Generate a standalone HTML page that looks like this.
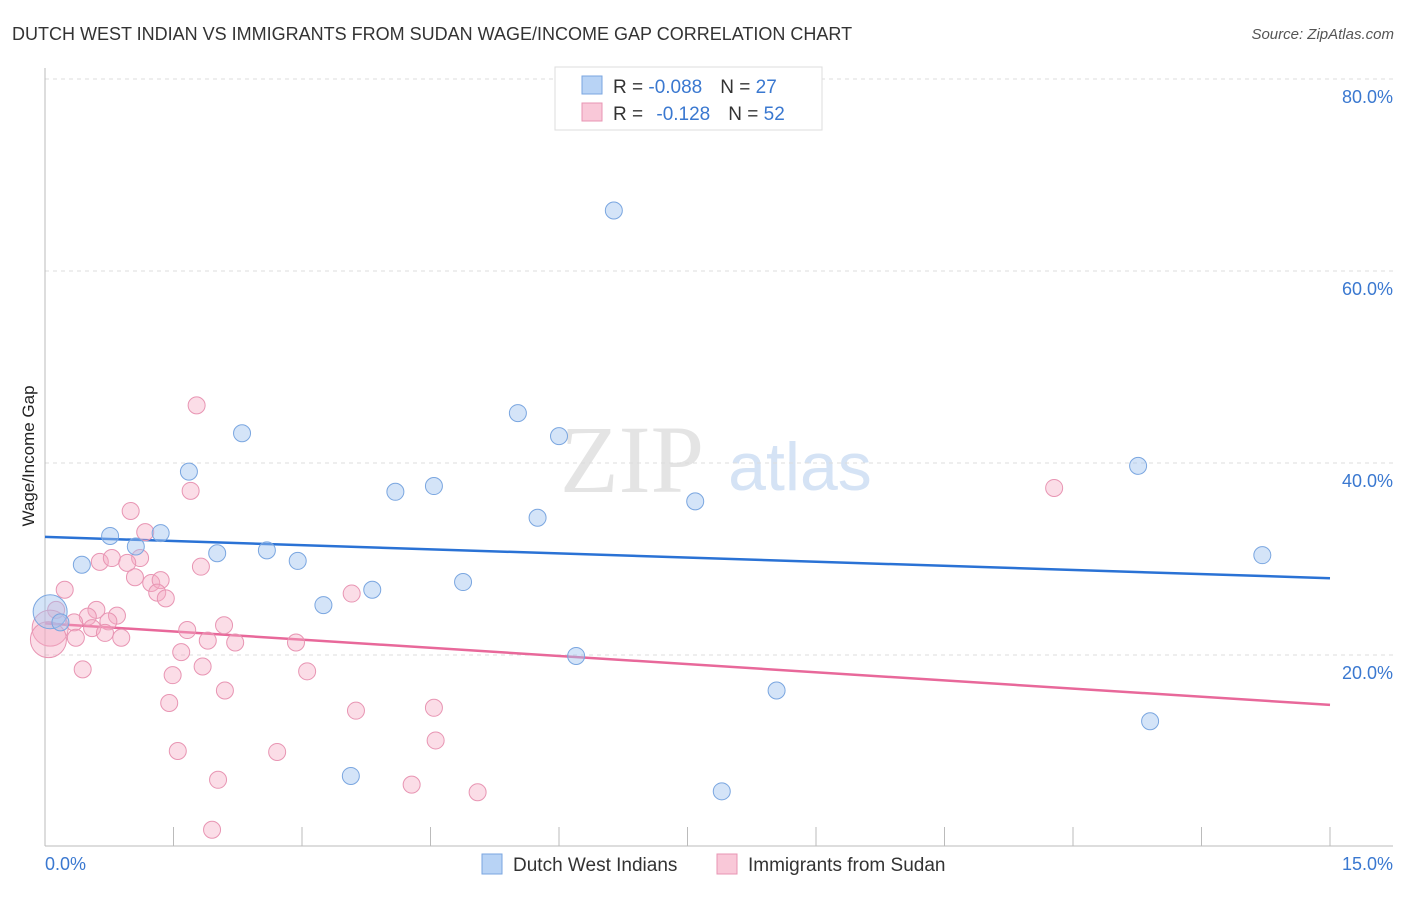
<!DOCTYPE html>
<html><head><meta charset="utf-8"><style>
body{margin:0;background:#fff;font-family:"Liberation Sans",sans-serif}
svg text{font-family:"Liberation Sans",sans-serif}
</style></head><body>
<svg id="c" width="1406" height="892">
<text x="12" y="40" font-size="18" fill="#333">DUTCH WEST INDIAN VS IMMIGRANTS FROM SUDAN WAGE/INCOME GAP CORRELATION CHART</text>
<text x="1394" y="39" font-size="15" fill="#555" text-anchor="end" font-style="italic">Source: ZipAtlas.com</text>
<text x="34" y="456" font-size="17" fill="#222" text-anchor="middle" transform="rotate(-90 34 456)">Wage/Income Gap</text>
<text x="632" y="492" font-size="96" fill="#e4e4e4" font-family="Liberation Serif" text-anchor="middle" style="font-family:'Liberation Serif',serif">ZIP</text>
<text x="800" y="490" font-size="68" fill="#d5e3f5" text-anchor="middle">atlas</text>
<g id="grid"></g><g id="axes"></g><g id="lines"></g><g id="pts"></g>
<g>
<rect x="555" y="67" width="267" height="63" fill="#fff" stroke="#ddd"/>
<rect x="582" y="76" width="20" height="18" fill="#b8d3f5" stroke="#7aa6e0"/>
<rect x="582" y="103" width="20" height="18" fill="#f9c8d8" stroke="#e895b3"/>
<text x="613" y="93" font-size="19" fill="#333">R = <tspan fill="#3a78d0">-0.088</tspan><tspan dx="18">N = </tspan><tspan fill="#3a78d0">27</tspan></text>
<text x="613" y="120" font-size="19" fill="#333">R = <tspan dx="8" fill="#3a78d0">-0.128</tspan><tspan dx="18">N = </tspan><tspan fill="#3a78d0">52</tspan></text>
</g>
<g>
<rect x="482" y="854" width="20" height="20" fill="#b8d3f5" stroke="#7aa6e0"/>
<text x="513" y="871" font-size="19" fill="#333">Dutch West Indians</text>
<rect x="717" y="854" width="20" height="20" fill="#f9c8d8" stroke="#e895b3"/>
<text x="748" y="871" font-size="19" fill="#333">Immigrants from Sudan</text>
</g>
<text x="45" y="870" font-size="18" fill="#3a78d0">0.0%</text>
<text x="1393" y="870" font-size="18" fill="#3a78d0" text-anchor="end">15.0%</text>
</svg>
<script>
const yTicks=[20,40,60,80];
const blueX=[6.64,5.52,2.30,6.00,1.68,4.09,4.54,12.76,7.59,5.75,0.76,1.35,1.06,2.01,2.59,2.95,0.43,14.21,4.88,3.82,3.25,0.06,0.18,6.20,8.54,12.90,3.57,7.90];
const blueY=[66.3,45.2,43.1,42.8,39.1,37.0,37.6,39.7,36.0,34.3,32.4,32.7,31.3,30.6,30.9,29.8,29.4,30.4,27.6,26.8,25.2,24.5,23.4,19.9,16.3,13.1,7.4,5.8];
const blueBig=[0,0,0,0,0,0,0,0,0,0,0,0,0,0,0,0,0,0,0,0,0,1,0,0,0,0,0,0];
const pinkX=[1.77,1.70,1.00,1.17,0.64,0.78,1.11,0.96,1.05,1.24,1.35,1.31,1.41,0.23,3.58,1.82,0.13,0.60,0.84,0.50,0.34,0.74,0.55,0.36,0.70,0.89,1.66,2.09,1.90,2.22,2.93,1.59,1.84,0.44,1.49,3.06,2.10,1.45,3.63,4.54,4.56,1.55,2.71,2.02,4.28,5.05,1.95,11.78,0.06,0.04];
const pinkY=[46.0,37.1,35.0,32.8,29.7,30.1,30.1,29.6,28.1,27.5,27.8,26.5,25.9,26.8,26.4,29.2,24.7,24.7,24.1,24.0,23.4,23.5,22.8,21.8,22.3,21.8,22.6,23.1,21.5,21.3,21.3,20.3,18.8,18.5,17.9,18.3,16.3,15.0,14.2,14.5,11.1,10.0,9.9,7.0,6.5,5.7,1.8,37.4,22.8,21.6];
const pinkBig=[0,0,0,0,0,0,0,0,0,0,0,0,0,0,0,0,0,0,0,0,0,0,0,0,0,0,0,0,0,0,0,0,0,0,0,0,0,0,0,0,0,0,0,0,0,0,0,0,1,1];
const blueTrend=[32.3,28.0];
const pinkTrend=[23.3,14.8];
const xS=v=>45+v/15*1285, yS=v=>847-v*9.6;
const NS='http://www.w3.org/2000/svg';
function mk(t,a,p){const e=document.createElementNS(NS,t);for(const k in a)e.setAttribute(k,a[k]);p.appendChild(e);return e;}
const g=document.getElementById('grid'),ax=document.getElementById('axes'),ln=document.getElementById('lines'),pt=document.getElementById('pts');
yTicks.forEach(v=>{const l=mk('line',{x1:45,x2:1393,y1:yS(v),y2:yS(v),stroke:'#ddd','stroke-dasharray':'4,4'},g);


const t=mk('text',{x:1393,y:yS(v)+24,'font-size':18,fill:'#3a78d0','text-anchor':'end'},g);t.textContent=v.toFixed(1)+'%';

});
mk('line',{x1:45,x2:45,y1:68,y2:846,stroke:'#bbb'},ax);
mk('line',{x1:45,x2:1393,y1:846,y2:846,stroke:'#bbb'},ax);
for(let i=1;i<=10;i++){const t=mk('line',{x1:xS(i*1.5),x2:xS(i*1.5),y1:827,y2:846,stroke:'#bbb'},ax);

}
const bl=mk('line',{x1:xS(0),x2:xS(15),y1:yS(blueTrend[0]),y2:yS(blueTrend[1]),stroke:'#2a72d5','stroke-width':2.5},ln);


const pl=mk('line',{x1:xS(0),x2:xS(15),y1:yS(pinkTrend[0]),y2:yS(pinkTrend[1]),stroke:'#e8689a','stroke-width':2.5},ln);


pinkX.forEach((x,i)=>{const c=mk('circle',{cx:xS(x),cy:yS(pinkY[i]),r:pinkBig[i]?18:8.5,fill:'rgba(244,170,195,0.4)',stroke:'#e895b3','stroke-width':1},pt);

});
blueX.forEach((x,i)=>{const c=mk('circle',{cx:xS(x),cy:yS(blueY[i]),r:blueBig[i]?17:8.5,fill:'rgba(160,196,240,0.45)',stroke:'#7aa6e0','stroke-width':1},pt);

});
</script>
</body></html>
